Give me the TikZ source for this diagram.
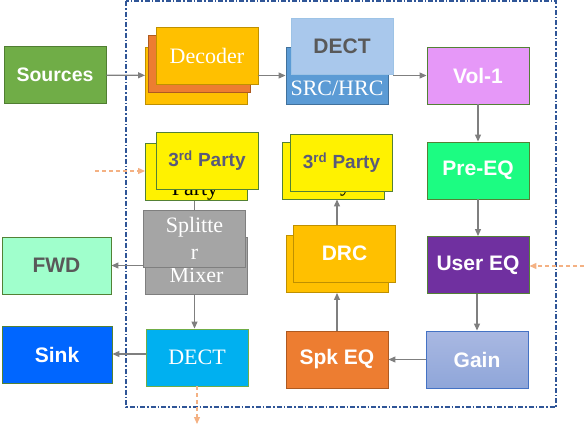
\documentclass[tikz,border=0pt]{standalone}
\usepackage{fontspec}
\setmainfont{Liberation Serif}
\setsansfont{Liberation Sans}
\usetikzlibrary{arrows.meta}
\definecolor{linegray}{HTML}{7F7F7F}
\definecolor{dashorange}{HTML}{F4B183}
\definecolor{framblue}{HTML}{2F5597}
\definecolor{darkgreen}{HTML}{538135}
\definecolor{txtgray}{HTML}{595959}
\definecolor{partytxt}{HTML}{5A5A7A}
\begin{document}
\begin{tikzpicture}[x=1pt,y=-1pt,
    box/.style={draw, inner sep=0pt, minimum width=102pt, minimum height=57pt, line width=0.9pt},
    bold/.style={font=\sffamily\bfseries\fontsize{21}{24}\selectfont, text=white},
    thin/.style={font=\fontsize{22}{25}\selectfont, text=white, align=center},
    arr/.style={draw=linegray, line width=1.2pt, -{Triangle[length=7pt,width=6pt]}},
    ext/.style={draw=dashorange, line width=1.2pt, dash pattern=on 4pt off 3pt, -{Triangle[length=7pt,width=6pt]}}]
\useasboundingbox (0,0) rectangle (584,426);
% frame
\draw[framblue, line width=1.2pt, dash pattern=on 5pt off 2pt on 1.5pt off 2pt] (126,1) rectangle (556,407);
% outside blocks
\node[box, bold, fill={rgb,255:red,112;green,173;blue,71}, draw={rgb,255:red,80;green,126;blue,50},
  font=\sffamily\bfseries\fontsize{19.5}{22}\selectfont] (sources) at (55,75) {Sources};
\node[box, bold, fill={rgb,255:red,160;green,255;blue,204}, draw=darkgreen, text=txtgray,
  minimum width=109pt] (fwd) at (56.5,265.5) {FWD};
\node[box, bold, fill={rgb,255:red,0;green,102;blue,255}, draw=darkgreen,
  minimum width=110pt] (sink) at (57,355) {Sink};
% decoder stack
\node[box, fill={rgb,255:red,255;green,192;blue,0}, draw={rgb,255:red,191;green,144;blue,0}] (decb) at (196.5,75.5) {};
\node[box, fill={rgb,255:red,237;green,125;blue,49}, draw={rgb,255:red,174;green,90;blue,33}] (decm) at (199,63.5) {};
\node[box, thin, fill={rgb,255:red,255;green,192;blue,0}, draw={rgb,255:red,191;green,144;blue,0}] (decf) at (207,55.5) {Decoder};
% src / dect
\node[box, fill={rgb,255:red,91;green,155;blue,213}, draw={rgb,255:red,65;green,113;blue,156}] (src) at (337,75.5) {};
\node[thin, anchor=base] (srctxt) at (337,95) {SRC/HRC};
\node[box, bold, fill={rgb,255:red,169;green,200;blue,236}, draw={rgb,255:red,157;green,195;blue,230},
  text=txtgray, minimum height=56pt] (dect) at (342,46) {DECT};
% right column
\node[box, bold, fill={rgb,255:red,230;green,152;blue,248}, draw=darkgreen] (vol) at (478,75.5) {Vol-1};
\node[box, bold, fill={rgb,255:red,28;green,252;blue,130}, draw=darkgreen] (pre) at (478,170.5) {Pre-EQ};
\node[box, bold, fill={rgb,255:red,112;green,48;blue,160}, draw=darkgreen] (user) at (478,265) {User EQ};
\node[box, bold, top color={rgb,255:red,169;green,184;blue,226}, bottom color={rgb,255:red,143;green,166;blue,217},
  draw={rgb,255:red,68;green,114;blue,196}] (gain) at (477,359.5) {Gain};
\node[box, bold, fill={rgb,255:red,237;green,125;blue,49}, draw={rgb,255:red,174;green,90;blue,33}] (spk) at (337,359.5) {Spk EQ};
\node[box, thin, fill={rgb,255:red,0;green,176;blue,240}, draw={rgb,255:red,112;green,173;blue,71}] (dectb) at (197,357.5) {DECT};
% 3rd party stacks
\node[box, fill=yellow, draw=darkgreen] (lpb) at (196.5,172) {};
\node[anchor=base, font=\fontsize{22}{25}\selectfont] (lptxt) at (195,195) {Party};
\node[box, bold, fill=yellow, draw=darkgreen, text=partytxt,
  font=\sffamily\bfseries\fontsize{19}{22}\selectfont] (lpf) at (207,160.5) {3\textsuperscript{rd} Party};
\node[box, fill=yellow, draw=darkgreen] (rpb) at (333,170.5) {};
\node[anchor=base, font=\fontsize{22}{25}\selectfont] (rptxt) at (328,191) {Party};
\node[box, bold, fill=yellow, draw=darkgreen, text=partytxt,
  font=\sffamily\bfseries\fontsize{19}{22}\selectfont] (rpf) at (341.5,163) {3\textsuperscript{rd} Party};
% splitter / mixer
\node[box, fill={rgb,255:red,165;green,165;blue,165}, draw=linegray] (mix) at (196.5,265.5) {};
\node[thin, anchor=base] (mixtxt) at (196.5,282) {Mixer};
\node[box, thin, fill={rgb,255:red,165;green,165;blue,165}, draw=linegray,
  font=\fontsize{22}{27}\selectfont] (split) at (194.5,238.5) {Splitte\\r};
% drc stack
\node[box, fill={rgb,255:red,255;green,192;blue,0}, draw={rgb,255:red,191;green,144;blue,0}] (drcb) at (337,264) {};
\node[box, bold, fill={rgb,255:red,255;green,192;blue,0}, draw={rgb,255:red,191;green,144;blue,0}] (drcf) at (344.5,253.5) {DRC};
% connectors
\draw[arr] (sources) -- (decb);
\draw[arr] (decf.east |- src) -- (src.west);
\draw[arr] (dect.east |- vol) -- (vol.west);
\draw[arr] (vol) -- (pre);
\draw[arr] (pre) -- (user);
\draw[arr] (user.south -| gain) -- (gain);
\draw[arr] (gain) -- (spk);
\draw[arr] (spk) -- (drcb);
\draw[arr] (drcf.north -| spk) -- (rpb.south -| spk);
\draw[draw=linegray, line width=1.2pt] (lpb.south -| split) -- (split.north);
\draw[arr] (split.west |- fwd) -- (fwd.east);
\draw[arr] (mix.south -| split) -- (dectb.north -| split);
\draw[arr] (dectb.west |- 0,354) -- (sink.east |- 0,354);
% external inputs / outputs
\coordinate (thirdin) at (95,171);
\coordinate (userin) at (584,266);
\coordinate (dectout) at (197,424);
\draw[ext] (thirdin) -- (lpb.west |- thirdin);
\draw[ext] (userin) -- (user.east |- userin);
\draw[ext] (dectb.south) -- (dectout);
\end{tikzpicture}
\end{document}
